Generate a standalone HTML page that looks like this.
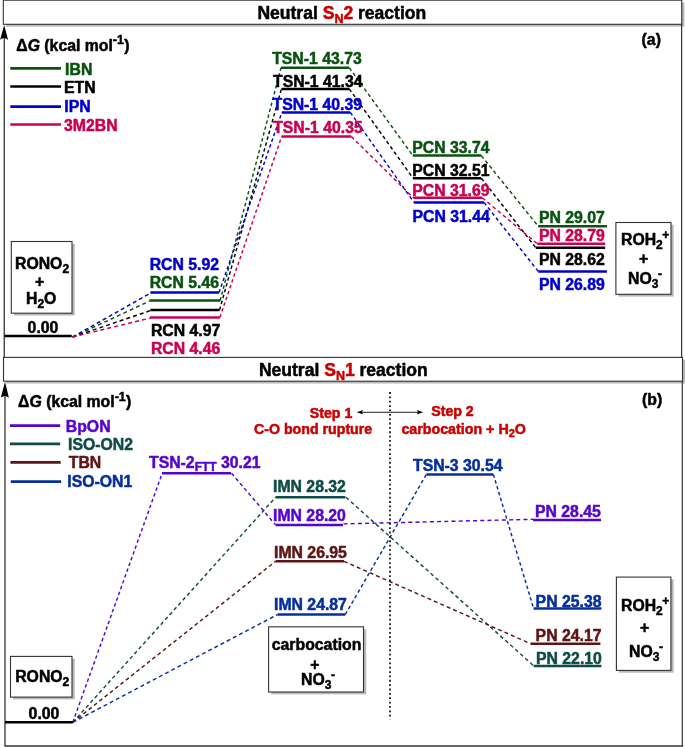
<!DOCTYPE html>
<html><head><meta charset="utf-8"><title>Neutral SN2 / SN1 reaction energy profiles</title>
<style>
html,body{margin:0;padding:0;background:#fff;}
svg{display:block;font-family:"Liberation Sans",Arial,sans-serif;font-weight:bold;}
text{stroke-width:0.5px;stroke-linejoin:round;}
</style></head><body>
<svg width="685" height="747" viewBox="0 0 685 747">
<defs><filter id="sh" x="-5%" y="-20%" width="110%" height="140%"><feGaussianBlur stdDeviation="0.35"/></filter></defs>
<rect width="685" height="747" fill="#fff"/>
<rect x="6.0" y="2.5" width="678.4" height="24.1" fill="#b8b8b8" filter="url(#sh)"/>
<rect x="6.2" y="359.7" width="679.0" height="23.8" fill="#b8b8b8" filter="url(#sh)"/>
<rect x="14.0" y="243.8" width="60.7" height="71.7" fill="#b8b8b8" filter="url(#sh)"/>
<rect x="618.6" y="224.8" width="55.1" height="71.8" fill="#b8b8b8" filter="url(#sh)"/>
<rect x="13.2" y="658.7" width="61.5" height="40.7" fill="#b8b8b8" filter="url(#sh)"/>
<rect x="271.3" y="629.1" width="94.9" height="65.2" fill="#b8b8b8" filter="url(#sh)"/>
<rect x="619.1" y="579.4" width="54.5" height="93.3" fill="#b8b8b8" filter="url(#sh)"/>
<line x1="4.27" y1="30" x2="4.27" y2="357.5" stroke="#444" stroke-width="1.4"/>
<line x1="681.6" y1="24" x2="681.6" y2="357.5" stroke="#333" stroke-width="1.2"/>
<line x1="5.0" y1="390" x2="5.0" y2="746" stroke="#444" stroke-width="1.4"/>
<line x1="682.3" y1="381" x2="682.3" y2="746" stroke="#333" stroke-width="1.2"/>
<line x1="4.5" y1="746" x2="683.2" y2="746" stroke="#333" stroke-width="1.4"/>
<rect x="3.3" y="0.2" width="678.4" height="24.1" fill="#fff" stroke="#333" stroke-width="1.1"/>
<rect x="3.5" y="357.4" width="679.0" height="23.8" fill="#fff" stroke="#333" stroke-width="1.1"/>
<path d="M4.2 24.9 L8.1 40.1 Q6 38.3 4.2 38.1 Q2.2 38.2 0.1 39.8 Z" fill="#000"/>
<path d="M5.0 381.8 L8.9 397.8 Q6.8 396.2 5.0 396.0 Q3.0 396.1 0.9 397.6 Z" fill="#000"/>
<text x="257.4" y="18.8" font-size="17.55" stroke="#000">Neutral <tspan fill="#cb0000" stroke="#cb0000">S<tspan font-size="12.5" dy="4">N</tspan><tspan dy="-4">2</tspan></tspan><tspan stroke="#000"> reaction</tspan></text>
<text x="258.9" y="376.1" font-size="17.55" stroke="#000">Neutral <tspan fill="#cb0000" stroke="#cb0000">S<tspan font-size="12.5" dy="4">N</tspan><tspan dy="-4">1</tspan></tspan><tspan stroke="#000"> reaction</tspan></text>
<text x="16.3" y="50.5" font-size="15.8" stroke="#000">Δ<tspan font-style="italic">G</tspan> (kcal mol<tspan font-size="12.5" dy="-6.6">-1</tspan><tspan dy="6.6" dx="0.3">)</tspan></text>
<text x="18.1" y="407.2" font-size="15.8" stroke="#000">Δ<tspan font-style="italic">G</tspan> (kcal mol<tspan font-size="12.5" dy="-6.6">-1</tspan><tspan dy="6.6" dx="0.3">)</tspan></text>
<text x="641.6" y="45.3" fill="#000000" stroke="#000000" font-size="15.8" text-anchor="start" >(a)</text>
<text x="642" y="405.3" fill="#000000" stroke="#000000" font-size="15.8" text-anchor="start" >(b)</text>
<line x1="10.3" y1="68.4" x2="61" y2="68.4" stroke="#09520f" stroke-width="2.7"/>
<text x="65.1" y="74.9" fill="#09520f" stroke="#09520f" font-size="15.8" text-anchor="start" >IBN</text>
<line x1="10.3" y1="86.5" x2="61" y2="86.5" stroke="#000000" stroke-width="2.7"/>
<text x="64" y="92.8" fill="#000000" stroke="#000000" font-size="15.8" text-anchor="start" >ETN</text>
<line x1="10.3" y1="106.6" x2="61" y2="106.6" stroke="#0000cc" stroke-width="2.7"/>
<text x="64.3" y="112.2" fill="#0000cc" stroke="#0000cc" font-size="15.8" text-anchor="start" >IPN</text>
<line x1="10.3" y1="124.5" x2="61" y2="124.5" stroke="#cc0050" stroke-width="2.7"/>
<text x="64" y="131.2" fill="#cc0050" stroke="#cc0050" font-size="15.8" text-anchor="start" >3M2BN</text>
<line x1="9.9" y1="425.6" x2="60.199999999999996" y2="425.6" stroke="#5606cc" stroke-width="2.7"/>
<text x="65.8" y="432.0" fill="#5606cc" stroke="#5606cc" font-size="15.8" text-anchor="start" >BpON</text>
<line x1="9.9" y1="443.8" x2="60.199999999999996" y2="443.8" stroke="#0f4c48" stroke-width="2.7"/>
<text x="68" y="450.0" fill="#0f4c48" stroke="#0f4c48" font-size="15.8" text-anchor="start" >ISO-ON2</text>
<line x1="10.4" y1="462.4" x2="60.699999999999996" y2="462.4" stroke="#5e1414" stroke-width="2.7"/>
<text x="68.8" y="468.3" fill="#5e1414" stroke="#5e1414" font-size="15.8" text-anchor="start" >TBN</text>
<line x1="10.8" y1="481.7" x2="61.099999999999994" y2="481.7" stroke="#05309c" stroke-width="2.7"/>
<text x="67.3" y="487.0" fill="#05309c" stroke="#05309c" font-size="15.8" text-anchor="start" >ISO-ON1</text>
<line x1="72.6" y1="337.0" x2="149.4" y2="301.2" stroke="#09520f" stroke-width="1.45" stroke-dasharray="3.92 3.08"/>
<line x1="220.2" y1="300.5" x2="281" y2="67.8" stroke="#09520f" stroke-width="1.45" stroke-dasharray="3.41 2.68"/>
<line x1="349.3" y1="67.8" x2="412.8" y2="155.6" stroke="#09520f" stroke-width="1.45" stroke-dasharray="3.60 2.83"/>
<line x1="481.3" y1="155.6" x2="538.2" y2="226.2" stroke="#09520f" stroke-width="1.45" stroke-dasharray="3.64 2.86"/>
<line x1="72.6" y1="337.0" x2="150.4" y2="310.59999999999997" stroke="#000000" stroke-width="1.45" stroke-dasharray="3.97 3.12"/>
<line x1="219.6" y1="309.9" x2="281.4" y2="88.9" stroke="#000000" stroke-width="1.45" stroke-dasharray="3.41 2.68"/>
<line x1="349.3" y1="88.9" x2="413" y2="178.2" stroke="#000000" stroke-width="1.45" stroke-dasharray="3.60 2.83"/>
<line x1="481.3" y1="178.2" x2="535.8" y2="247.7" stroke="#000000" stroke-width="1.45" stroke-dasharray="3.63 2.85"/>
<line x1="72.6" y1="337.0" x2="150.4" y2="293.2" stroke="#0000cc" stroke-width="1.45" stroke-dasharray="3.88 3.05"/>
<line x1="219" y1="292.5" x2="281.9" y2="112.4" stroke="#0000cc" stroke-width="1.45" stroke-dasharray="3.44 2.70"/>
<line x1="350.3" y1="112.4" x2="414" y2="202.4" stroke="#0000cc" stroke-width="1.45" stroke-dasharray="3.60 2.83"/>
<line x1="484" y1="202.4" x2="538.2" y2="271.4" stroke="#0000cc" stroke-width="1.45" stroke-dasharray="3.63 2.85"/>
<line x1="72.6" y1="337.0" x2="149.9" y2="318.09999999999997" stroke="#cc0050" stroke-width="1.45" stroke-dasharray="4.00 3.14"/>
<line x1="219.9" y1="317.4" x2="281.7" y2="136.5" stroke="#cc0050" stroke-width="1.45" stroke-dasharray="3.44 2.70"/>
<line x1="351.3" y1="136.5" x2="413.3" y2="197.8" stroke="#cc0050" stroke-width="1.45" stroke-dasharray="3.72 2.92"/>
<line x1="482.3" y1="197.8" x2="537.2" y2="243.7" stroke="#cc0050" stroke-width="1.45" stroke-dasharray="3.77 2.96"/>
<line x1="149.4" y1="300.5" x2="220.2" y2="300.5" stroke="#09520f" stroke-width="2.5"/>
<line x1="281" y1="67.8" x2="349.3" y2="67.8" stroke="#09520f" stroke-width="2.5"/>
<line x1="412.8" y1="155.6" x2="481.3" y2="155.6" stroke="#09520f" stroke-width="2.5"/>
<line x1="538.2" y1="226.2" x2="606.9" y2="226.2" stroke="#09520f" stroke-width="2.5"/>
<line x1="150.4" y1="309.9" x2="219.6" y2="309.9" stroke="#000000" stroke-width="2.5"/>
<line x1="281.4" y1="88.9" x2="349.3" y2="88.9" stroke="#000000" stroke-width="2.5"/>
<line x1="413" y1="178.2" x2="481.3" y2="178.2" stroke="#000000" stroke-width="2.5"/>
<line x1="535.8" y1="247.7" x2="605.2" y2="247.7" stroke="#000000" stroke-width="2.5"/>
<line x1="150.4" y1="292.5" x2="219" y2="292.5" stroke="#0000cc" stroke-width="2.5"/>
<line x1="281.9" y1="112.4" x2="350.3" y2="112.4" stroke="#0000cc" stroke-width="2.5"/>
<line x1="414" y1="202.4" x2="484" y2="202.4" stroke="#0000cc" stroke-width="2.5"/>
<line x1="538.2" y1="271.4" x2="606.9" y2="271.4" stroke="#0000cc" stroke-width="2.5"/>
<line x1="149.9" y1="317.4" x2="219.9" y2="317.4" stroke="#cc0050" stroke-width="2.5"/>
<line x1="281.7" y1="136.5" x2="351.3" y2="136.5" stroke="#cc0050" stroke-width="2.5"/>
<line x1="413.3" y1="197.8" x2="482.3" y2="197.8" stroke="#cc0050" stroke-width="2.5"/>
<line x1="537.2" y1="243.7" x2="605.2" y2="243.7" stroke="#cc0050" stroke-width="2.5"/>
<line x1="4.5" y1="336" x2="71.8" y2="336" stroke="#000000" stroke-width="2.5"/>
<text x="27.6" y="333.0" fill="#000000" stroke="#000000" font-size="15.8" text-anchor="start" >0.00</text>
<text x="149.7" y="269.5" fill="#0000cc" stroke="#0000cc" font-size="15.8" text-anchor="start" >RCN 5.92</text>
<text x="149.7" y="287.9" fill="#09520f" stroke="#09520f" font-size="15.8" text-anchor="start" >RCN 5.46</text>
<text x="150.9" y="335.5" fill="#000000" stroke="#000000" font-size="15.8" text-anchor="start" >RCN 4.97</text>
<text x="150.9" y="354.2" fill="#cc0050" stroke="#cc0050" font-size="15.8" text-anchor="start" >RCN 4.46</text>
<text x="272.2" y="63.9" fill="#09520f" stroke="#09520f" font-size="15.8" text-anchor="start" >TSN-1 43.73</text>
<text x="273" y="86.5" fill="#000000" stroke="#000000" font-size="15.8" text-anchor="start" >TSN-1 41.34</text>
<text x="272.5" y="110.3" fill="#0000cc" stroke="#0000cc" font-size="15.8" text-anchor="start" >TSN-1 40.39</text>
<text x="273.2" y="132.9" fill="#cc0050" stroke="#cc0050" font-size="15.8" text-anchor="start" >TSN-1 40.35</text>
<text x="412.3" y="152.9" fill="#09520f" stroke="#09520f" font-size="15.8" text-anchor="start" >PCN 33.74</text>
<text x="412.3" y="176.1" fill="#000000" stroke="#000000" font-size="15.8" text-anchor="start" >PCN 32.51</text>
<text x="412.3" y="196.2" fill="#cc0050" stroke="#cc0050" font-size="15.8" text-anchor="start" >PCN 31.69</text>
<text x="412.5" y="221.9" fill="#0000cc" stroke="#0000cc" font-size="15.8" text-anchor="start" >PCN 31.44</text>
<text x="538.9" y="223.1" fill="#09520f" stroke="#09520f" font-size="15.8" text-anchor="start" >PN 29.07</text>
<text x="538.9" y="241.4" fill="#cc0050" stroke="#cc0050" font-size="15.8" text-anchor="start" >PN 28.79</text>
<text x="538.9" y="265.2" fill="#000000" stroke="#000000" font-size="15.8" text-anchor="start" >PN 28.62</text>
<text x="538.9" y="289.8" fill="#0000cc" stroke="#0000cc" font-size="15.8" text-anchor="start" >PN 26.89</text>
<rect x="11.3" y="241.5" width="60.7" height="71.7" fill="#fff" stroke="#333" stroke-width="1.1"/>
<text x="15" y="268.8" fill="#000000" stroke="#000000" font-size="15.8" text-anchor="start" >RONO<tspan font-size="12" dy="4">2</tspan><tspan dy="-4" font-size="1">&#8203;</tspan></text>
<text x="39.7" y="286.6" fill="#000000" stroke="#000000" font-size="15.8" text-anchor="middle" >+</text>
<text x="26" y="304.4" fill="#000000" stroke="#000000" font-size="15.8" text-anchor="start" >H<tspan font-size="12" dy="4">2</tspan><tspan dy="-4" font-size="1">&#8203;</tspan>O</text>
<rect x="615.9" y="222.5" width="55.1" height="71.8" fill="#fff" stroke="#333" stroke-width="1.1"/>
<text x="621" y="245.4" fill="#000000" stroke="#000000" font-size="15.8" text-anchor="start" >ROH<tspan font-size="12" dy="4">2</tspan><tspan dy="-4" font-size="1">&#8203;</tspan><tspan font-size="12" dy="-6" dx="-0.5">+</tspan></text>
<text x="643.6" y="264.1" fill="#000000" stroke="#000000" font-size="15.8" text-anchor="middle" >+</text>
<text x="628" y="284.1" fill="#000000" stroke="#000000" font-size="15.8" text-anchor="start" >NO<tspan font-size="12" dy="4">3</tspan><tspan dy="-4" font-size="1">&#8203;</tspan><tspan font-size="12" dy="-6" dx="-0.5">-</tspan></text>
<line x1="72.8" y1="722.3" x2="162.2" y2="473.2" stroke="#5606cc" stroke-width="1.45" stroke-dasharray="3.44 2.71"/>
<line x1="231.5" y1="473.2" x2="275.6" y2="524.9" stroke="#5606cc" stroke-width="1.45" stroke-dasharray="3.66 2.87"/>
<line x1="343.5" y1="523.9" x2="533" y2="519.3" stroke="#5606cc" stroke-width="1.45" stroke-dasharray="4.03 3.17"/>
<line x1="72.8" y1="722.3" x2="275.6" y2="497.3" stroke="#0f4c48" stroke-width="1.45" stroke-dasharray="3.68 2.89"/>
<line x1="346" y1="497.3" x2="533.9" y2="666" stroke="#0f4c48" stroke-width="1.45" stroke-dasharray="3.75 2.94"/>
<line x1="72.8" y1="722.3" x2="275.6" y2="561.3" stroke="#5e1414" stroke-width="1.45" stroke-dasharray="3.79 2.98"/>
<line x1="344" y1="561.3" x2="530.6" y2="643.7" stroke="#5e1414" stroke-width="1.45" stroke-dasharray="3.93 3.09"/>
<line x1="72.8" y1="722.3" x2="277.6" y2="614.5" stroke="#05309c" stroke-width="1.45" stroke-dasharray="3.90 3.06"/>
<line x1="345.3" y1="614.5" x2="426.4" y2="474.4" stroke="#05309c" stroke-width="1.45" stroke-dasharray="3.54 2.78"/>
<line x1="493.4" y1="474.4" x2="533.6" y2="608.5" stroke="#05309c" stroke-width="1.45" stroke-dasharray="3.42 2.69"/>
<line x1="162" y1="473.2" x2="231" y2="473.2" stroke="#5606cc" stroke-width="2.5"/>
<line x1="275.6" y1="524.9" x2="343" y2="524.9" stroke="#5606cc" stroke-width="2.5"/>
<line x1="533" y1="520.1" x2="601" y2="520.1" stroke="#5606cc" stroke-width="2.5"/>
<line x1="275.6" y1="497.3" x2="345.4" y2="497.3" stroke="#0f4c48" stroke-width="2.5"/>
<line x1="533.6" y1="666" x2="601.4" y2="666" stroke="#0f4c48" stroke-width="2.5"/>
<line x1="275.6" y1="561.3" x2="344" y2="561.3" stroke="#5e1414" stroke-width="2.5"/>
<line x1="530.6" y1="643.7" x2="600.4" y2="643.7" stroke="#5e1414" stroke-width="2.5"/>
<line x1="277.6" y1="614.5" x2="345.3" y2="614.5" stroke="#05309c" stroke-width="2.5"/>
<line x1="426.4" y1="474.4" x2="493.4" y2="474.4" stroke="#05309c" stroke-width="2.5"/>
<line x1="533.6" y1="608.5" x2="601.4" y2="608.5" stroke="#05309c" stroke-width="2.5"/>
<line x1="5" y1="722.3" x2="72.8" y2="722.3" stroke="#000000" stroke-width="2.5"/>
<text x="28.6" y="719.3" fill="#000000" stroke="#000000" font-size="15.8" text-anchor="start" >0.00</text>
<text x="149" y="468.2" fill="#5606cc" stroke="#5606cc" font-size="15.8" text-anchor="start" >TSN-2<tspan font-size="12" dy="3.2">FTT</tspan><tspan dy="-3.2"> 30.21</tspan></text>
<text x="273" y="491.8" fill="#0f4c48" stroke="#0f4c48" font-size="15.8" text-anchor="start" >IMN 28.32</text>
<text x="273" y="521.0" fill="#5606cc" stroke="#5606cc" font-size="15.8" text-anchor="start" >IMN 28.20</text>
<text x="274" y="557.6" fill="#5e1414" stroke="#5e1414" font-size="15.8" text-anchor="start" >IMN 26.95</text>
<text x="274" y="609.6" fill="#05309c" stroke="#05309c" font-size="15.8" text-anchor="start" >IMN 24.87</text>
<text x="413" y="471.0" fill="#05309c" stroke="#05309c" font-size="15.8" text-anchor="start" >TSN-3 30.54</text>
<text x="535" y="517.0" fill="#5606cc" stroke="#5606cc" font-size="15.8" text-anchor="start" >PN 28.45</text>
<text x="535.6" y="607.4" fill="#05309c" stroke="#05309c" font-size="15.8" text-anchor="start" >PN 25.38</text>
<text x="535.6" y="641.3" fill="#5e1414" stroke="#5e1414" font-size="15.8" text-anchor="start" >PN 24.17</text>
<text x="536" y="663.7" fill="#0f4c48" stroke="#0f4c48" font-size="15.8" text-anchor="start" >PN 22.10</text>
<rect x="10.5" y="656.4" width="61.5" height="40.7" fill="#fff" stroke="#333" stroke-width="1.1"/>
<text x="15.2" y="682.2" fill="#000000" stroke="#000000" font-size="15.8" text-anchor="start" >RONO<tspan font-size="12" dy="4">2</tspan><tspan dy="-4" font-size="1">&#8203;</tspan></text>
<rect x="268.6" y="626.8" width="94.9" height="65.2" fill="#fff" stroke="#333" stroke-width="1.1"/>
<text x="271.8" y="650.3" fill="#000000" stroke="#000000" font-size="15.8" text-anchor="start" >carbocation</text>
<text x="314.8" y="670.1" fill="#000000" stroke="#000000" font-size="15.8" text-anchor="middle" >+</text>
<text x="301" y="684.9" fill="#000000" stroke="#000000" font-size="15.8" text-anchor="start" >NO<tspan font-size="12" dy="4">3</tspan><tspan dy="-4" font-size="1">&#8203;</tspan><tspan font-size="12" dy="-6" dx="-0.5">-</tspan></text>
<rect x="616.4" y="577.1" width="54.5" height="93.3" fill="#fff" stroke="#333" stroke-width="1.1"/>
<text x="621" y="610.6" fill="#000000" stroke="#000000" font-size="15.8" text-anchor="start" >ROH<tspan font-size="12" dy="4">2</tspan><tspan dy="-4" font-size="1">&#8203;</tspan><tspan font-size="12" dy="-6" dx="-0.5">+</tspan></text>
<text x="644.6" y="632.8" fill="#000000" stroke="#000000" font-size="15.8" text-anchor="middle" >+</text>
<text x="629" y="657.3" fill="#000000" stroke="#000000" font-size="15.8" text-anchor="start" >NO<tspan font-size="12" dy="4">3</tspan><tspan dy="-4" font-size="1">&#8203;</tspan><tspan font-size="12" dy="-6" dx="-0.5">-</tspan></text>
<text x="309.8" y="417.7" fill="#cb0000" stroke="#cb0000" font-size="14.2" text-anchor="start" >Step 1</text>
<text x="372.2" y="433.5" fill="#cb0000" stroke="#cb0000" font-size="14.2" text-anchor="end" >C-O bond rupture</text>
<text x="431.2" y="416.4" fill="#cb0000" stroke="#cb0000" font-size="14.2" text-anchor="start" >Step 2</text>
<text x="401.4" y="433.8" fill="#cb0000" stroke="#cb0000" font-size="14.25" text-anchor="start" >carbocation + H<tspan font-size="11" dy="3.5">2</tspan><tspan dy="-3.5">O</tspan></text>
<line x1="359" y1="412.3" x2="421" y2="412.3" stroke="#222" stroke-width="1"/>
<path d="M356.7 412.2 L363.2 410 L361.8 412.2 L363.2 414.4 Z" fill="#000"/>
<path d="M423.2 412.2 L416.7 410 L418.1 412.2 L416.7 414.4 Z" fill="#000"/>
<line x1="390.0" y1="392.1" x2="390.0" y2="719.3" stroke="#1a1a1a" stroke-width="1.8" stroke-dasharray="1.8 2.56"/>
</svg>
</body></html>
